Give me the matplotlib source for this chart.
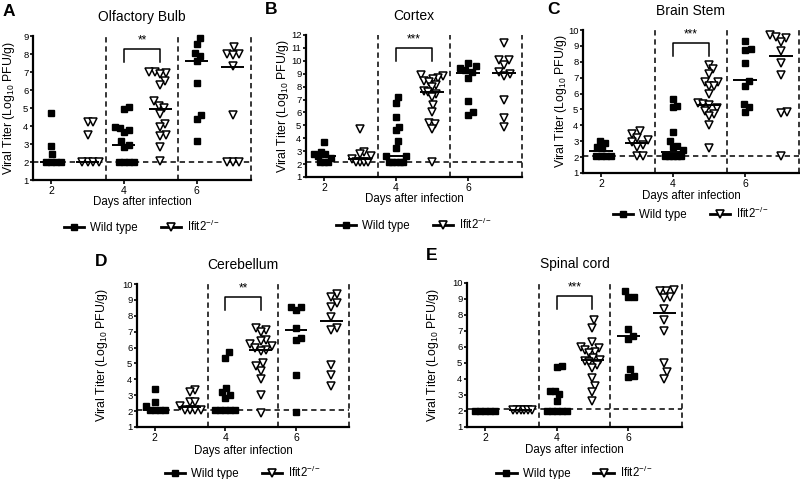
import numpy as np
import matplotlib.pyplot as plt
from matplotlib.lines import Line2D

plt.rcParams['font.family'] = ['Liberation Sans', 'DejaVu Sans']
plt.rcParams['mathtext.fontset'] = 'custom'
plt.rcParams['mathtext.rm'] = 'Liberation Sans'
plt.rcParams['mathtext.it'] = 'Liberation Sans:italic'

# ---- data (log10 PFU/g), groups = day 2, 4, 6 ----
days = [2, 4, 6]
day_labels = ['2', '4', '6']
titles = ['Olfactory Bulb', 'Cortex', 'Brain Stem', 'Cerebellum', 'Spinal cord']
letters = ['A', 'B', 'C', 'D', 'E']
y_top = [9, 12, 10, 10, 10]
detect_limit = [2.0, 2.15, 2.05, 2.05, 2.1]
stars = ['**', '***', '***', '**', '***']

# olfactory bulb
olf_wt = [[4.75, 2.87, 2.44, 2.0, 2.0, 2.0, 2.0],
          [5.06, 4.93, 3.93, 3.89, 3.78, 3.65, 3.15, 2.93, 2.81, 2.0, 2.0, 2.0, 2.0],
          [8.89, 8.57, 8.06, 7.91, 7.59, 6.39, 4.63, 4.39, 3.15]]
olf_ko = [[4.2, 4.2, 3.5, 2.0, 2.0, 2.0, 2.0],
          [6.98, 6.98, 6.94, 6.9, 6.48, 6.3, 5.37, 5.13, 5.0, 4.67, 4.13, 3.94, 3.52, 3.43, 2.83, 2.04],
          [8.39, 8.0, 8.0, 7.96, 7.31, 4.63, 2.0, 2.0, 2.0]]
olf_med_wt = [2.0, 2.93, 7.59]
olf_med_ko = [2.0, 4.96, 7.28]

# cortex
ctx_wt = [[3.7, 2.95, 2.8, 2.75, 2.6, 2.5, 2.15, 2.15, 2.15],
          [7.21, 6.71, 5.62, 4.86, 4.61, 3.78, 3.27, 2.59, 2.59, 2.15, 2.15, 2.15, 2.15, 2.15],
          [9.84, 9.6, 9.45, 9.25, 9.1, 8.7, 6.85, 6.0, 5.8]]
ctx_ko = [[4.74, 2.97, 2.79, 2.6, 2.4, 2.15, 2.15, 2.15, 2.15],
          [8.9, 8.8, 8.7, 8.6, 8.45, 8.35, 8.15, 7.95, 7.65, 7.55, 7.4, 7.2, 6.6, 6.0, 5.2, 5.1, 4.7, 2.15],
          [11.4, 10.1, 10.05, 9.7, 9.15, 9.0, 8.8, 6.95, 5.6, 4.85]]
ctx_med_wt = [2.59, 2.59, 9.08]
ctx_med_ko = [2.41, 7.59, 9.08]

# brain stem
bst_wt = [[3.04, 2.89, 2.62, 2.55, 2.05, 2.05, 2.05, 2.05],
          [5.66, 5.2, 5.14, 3.56, 3.0, 2.72, 2.66, 2.47, 2.05, 2.05, 2.05, 2.05, 2.05],
          [9.3, 8.82, 8.77, 7.93, 6.82, 6.5, 5.35, 5.14, 4.82]]
bst_ko = [[3.67, 3.46, 3.2, 3.1, 2.93, 2.76, 2.62, 2.05, 2.05],
          [7.8, 7.55, 7.24, 6.75, 6.71, 6.5, 6.5, 5.98, 5.41, 5.35, 5.29, 5.08, 4.93, 4.72, 4.61, 4.0, 2.55],
          [9.66, 9.55, 9.49, 9.24, 8.65, 7.93, 7.17, 4.82, 4.78, 2.05]]
bst_med_wt = [2.37, 2.3, 6.86]
bst_med_ko = [2.89, 5.29, 8.39]

# cerebellum
cbl_wt = [[3.38, 2.6, 2.35, 2.05, 2.05, 2.05, 2.05],
          [5.73, 5.35, 3.45, 3.19, 3.03, 2.8, 2.05, 2.05, 2.05, 2.05, 2.05],
          [8.55, 8.55, 8.34, 7.24, 6.61, 6.46, 4.29, 1.97]]
cbl_ko = [[3.34, 3.19, 2.56, 2.56, 2.3, 2.05, 2.05, 2.05, 2.05],
          [7.2, 7.08, 6.95, 6.5, 6.4, 6.2, 6.1, 5.95, 5.87, 5.8, 5.03, 4.82, 4.54, 4.04, 3.03, 1.86],
          [9.35, 9.2, 8.83, 8.55, 7.92, 7.2, 7.08, 4.92, 4.29, 3.55]]
cbl_med_wt = [2.05, 2.05, 7.08]
cbl_med_ko = [2.29, 5.87, 7.67]

# spinal cord
spc_wt = [[2.02, 2.02, 2.02, 2.02, 2.02],
          [4.81, 4.73, 3.25, 3.25, 3.04, 2.63, 2.02, 2.02, 2.02, 2.02, 2.02],
          [9.52, 9.1, 9.1, 7.13, 6.71, 6.5, 4.63, 4.21, 4.15]]
spc_ko = [[2.05, 2.05, 2.05, 2.05, 2.05, 2.05],
          [7.69, 7.21, 6.29, 6.0, 5.92, 5.81, 5.7, 5.6, 5.29, 5.19, 5.1, 5.04, 4.85, 4.71, 4.08, 3.58, 3.21, 2.63],
          [9.56, 9.52, 9.52, 9.15, 9.04, 8.38, 7.69, 7.02, 4.98, 4.46, 4.0]]
spc_med_wt = [2.02, 2.02, 6.69]
spc_med_ko = [2.05, 5.19, 8.1]

wt_all = [olf_wt, ctx_wt, bst_wt, cbl_wt, spc_wt]
ko_all = [olf_ko, ctx_ko, bst_ko, cbl_ko, spc_ko]
med_wt_all = [olf_med_wt, ctx_med_wt, bst_med_wt, cbl_med_wt, spc_med_wt]
med_ko_all = [olf_med_ko, ctx_med_ko, bst_med_ko, cbl_med_ko, spc_med_ko]

# ---- layout (pixel boxes: left, top, right, bottom) ----
W, H = 800, 479
boxes = [(33, 36, 251, 180), (306, 35, 522, 177), (583, 30, 799, 173),
         (137, 284, 349, 427), (467, 283, 682, 427)]
letter_pos = [(9, 11), (271, 9), (553, 9), (101, 261), (432, 256)]
ylabel_x = [9, 283, 561, 102, 433]
xlabel_gap = [22, 22, 23, 24, 23]
legend_gap = [46, 47, 40, 45, 45]

fig = plt.figure(figsize=(8, 4.79), dpi=100)


def swarm(ax, x0, vals, dx0, dy0, half_width):
    # spread close values side by side (beeswarm in pixel space), then squeeze
    tr = ax.transData.transform
    py_all = tr(np.column_stack([np.full(len(vals), x0), vals]))[:, 1]
    placed = []
    xs = np.zeros(len(vals))
    for i in np.argsort(vals, kind='stable'):
        py = py_all[i]
        cands = [0.0]
        for px, qy in placed:
            e = (py - qy) / dy0
            if abs(e) < 1:
                dx = dx0 * np.sqrt(1 - e * e)
                cands += [px + dx, px - dx]
        cands.sort(key=abs)
        for c in cands:
            if all(((c - px) / dx0) ** 2 + ((py - qy) / dy0) ** 2 >= 1 - 1e-6
                   for px, qy in placed):
                break
        placed.append((c, py))
        xs[i] = c
    widest = np.abs(xs).max()
    if widest > half_width:
        xs = xs * half_width / widest
    unit = tr((1, 0))[0] - tr((0, 0))[0]
    return x0 + xs / unit


for k in range(5):
    l, t, r, b = boxes[k]
    wpx, hpx = r - l, b - t
    ax = fig.add_axes([l / W, 1 - b / H, wpx / W, hpx / H])
    ax.set_xlim(1.5, 7.5)
    ax.set_ylim(1, y_top[k])

    for spine in ['top', 'right']:
        ax.spines[spine].set_visible(False)
    for spine in ['left', 'bottom']:
        ax.spines[spine].set_linewidth(1.6)

    ax.set_yticks(range(1, y_top[k] + 1))
    ax.set_xticks(days)
    ax.set_xticklabels(day_labels)
    ax.tick_params(axis='y', length=2.5, width=1.2, pad=0.8, labelsize=6.8)
    ax.tick_params(axis='x', length=3, width=1.2, pad=1.5, labelsize=7.5)

    # detection limit and day separators
    ax.axhline(detect_limit[k], color='k', lw=1.1, dashes=(3.5, 2.5), zorder=1)
    for xv in [3.5, 5.5, 7.5]:
        ax.axvline(xv, color='k', lw=1.1, dashes=(3.5, 2.5), zorder=1, clip_on=False)

    for j, d in enumerate(days):
        wt = wt_all[k][j]
        ko = ko_all[k][j]
        ax.plot(swarm(ax, d, wt, 5.6, 8, 10), wt, 's', color='k', ms=3.9,
                zorder=3, clip_on=False)
        ax.plot(swarm(ax, d + 1, ko, 6.3, 8, 11), ko, 'v', mfc='white', mec='k',
                mew=1.1, ms=5.2, zorder=3, clip_on=False)
        ax.hlines(med_wt_all[k][j], d - 0.32, d + 0.32, color='k', lw=1.4, zorder=4)
        ax.hlines(med_ko_all[k][j], d + 1 - 0.32, d + 1 + 0.32, color='k', lw=1.4, zorder=4)

    # significance bracket between day-4 groups
    span = y_top[k] - 1
    yb, yt = 1 + 0.82 * span, 1 + 0.91 * span
    ax.plot([4, 4, 5, 5], [yb, yt, yt, yb], color='k', lw=1.1)
    ax.text(4.5, yt + 0.015 * span, stars[k], ha='center', va='bottom', fontsize=8.5)

    ax.text(0.5, 1 + 19 / hpx, titles[k], transform=ax.transAxes, ha='center',
            va='center', fontsize=10)
    ax.text(0.5, -xlabel_gap[k] / hpx, 'Days after infection', transform=ax.transAxes,
            ha='center', va='center', fontsize=8.3)

    h_wt = Line2D([], [], color='k', lw=2, marker='s', ms=4.5)
    h_ko = Line2D([], [], color='k', lw=2, marker='v', ms=6, mfc='white', mec='k', mew=1.2)
    ax.legend([h_wt, h_ko], ['Wild type', 'Ifit2$^{-/-}$'], loc='center',
              bbox_to_anchor=(0.5, -legend_gap[k] / hpx), ncol=2, frameon=False,
              fontsize=8.3, handlelength=1.8, handletextpad=0.5, columnspacing=2.0)

    fig.text(ylabel_x[k] / W, 1 - (t + b) / 2 / H, 'Viral Titer (Log$_{10}$ PFU/g)',
             rotation=90, ha='center', va='center', fontsize=8.8)
    lx, ly = letter_pos[k]
    fig.text(lx / W, 1 - ly / H, letters[k], ha='center', va='center',
             fontsize=12.5, fontweight='bold')

fig.savefig('out.png', dpi=100)
